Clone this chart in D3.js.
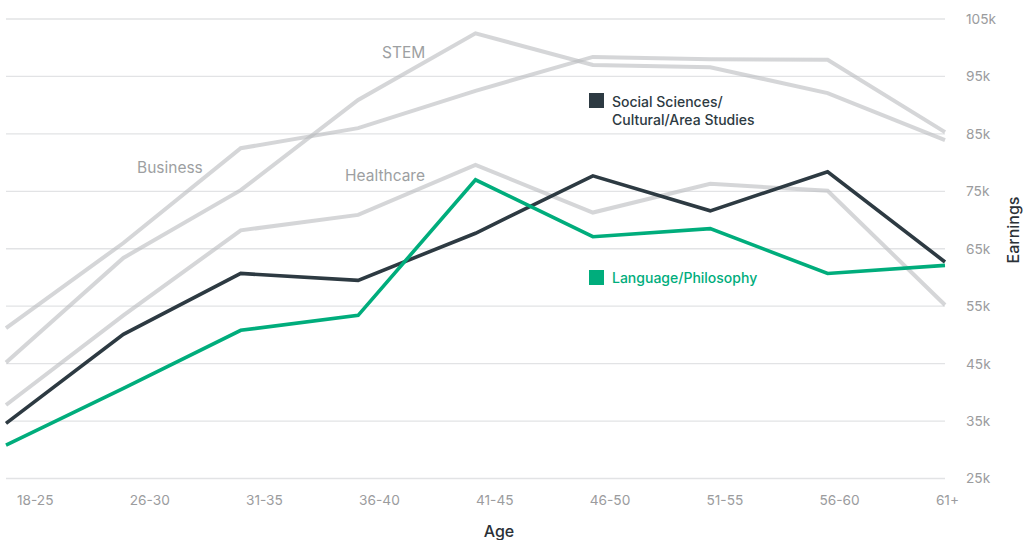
<!DOCTYPE html>
<html>
<head>
<meta charset="utf-8">
<script src="https://cdn.jsdelivr.net/npm/d3@7"></script>
<style>
  html, body { margin: 0; padding: 0; background: #fff; }
  svg { display: block; font-family: Inter, "Noto Sans", sans-serif; }
</style>
</head>
<body>
<svg id="chart" width="1029" height="540"></svg>
<script>
const ages = ["18-25","26-30","31-35","36-40","41-45","46-50","51-55","56-60","61+"];
const yTicks = [25,35,45,55,65,75,85,95,105];
const business   = [51.2, 66.0, 82.5, 86.0, 92.5, 98.4, 98.0, 97.9, 85.3];
const stem       = [45.2, 63.4, 75.2, 90.9, 102.5, 97.0, 96.6, 92.1, 83.9];
const healthcare = [37.8, 53.4, 68.2, 70.9, 79.6, 71.3, 76.3, 75.1, 55.2];
const socialSci  = [34.6, 50.1, 60.7, 59.5, 67.7, 77.7, 71.6, 78.4, 62.7];
const language   = [30.8, 40.7, 50.8, 53.4, 77.0, 67.1, 68.5, 60.7, 62.1];

const svg = d3.select("#chart");
const x = d3.scalePoint().domain(ages).range([6, 945]);
const y = d3.scaleLinear().domain([25, 105]).range([478.5, 19]);

// gridlines
svg.append("g").selectAll("line").data(yTicks).join("line")
  .attr("x1", 6).attr("x2", 945)
  .attr("y1", d => y(d)).attr("y2", d => y(d))
  .attr("stroke", "#e2e3e5").attr("stroke-width", 1.3);

// y axis labels (right)
const yAxis = d3.axisRight(y).tickValues(yTicks).tickFormat(d => d + "k").tickSize(0).tickPadding(0);
const gy = svg.append("g").attr("transform", "translate(966,0)").call(yAxis);
gy.select(".domain").remove();
gy.selectAll("text").attr("fill", "#9b9c9e").attr("font-size", 13.7).attr("font-family", "Inter, sans-serif");

// x axis labels, spread with space-between
const gx = svg.append("g");
const xl = gx.selectAll("text").data(ages).join("text")
  .text(d => d).attr("y", 505).attr("fill", "#9b9c9e").attr("font-size", 13.7);
const widths = [];
xl.each(function() { widths.push(this.getComputedTextLength()); });
const left = 17, right = 959;
const total = d3.sum(widths);
const gap = (right - left - total) / (ages.length - 1);
let cur = left;
xl.attr("x", (d, i) => { const v = cur; cur += widths[i] + gap; return v; });

// axis titles
svg.append("text").text("Age").attr("x", 499).attr("y", 537)
  .attr("text-anchor", "middle").attr("fill", "#2b3137").attr("font-size", 16).attr("font-weight", 500);
svg.append("text").text("Earnings")
  .attr("transform", "translate(1019,230) rotate(-90)")
  .attr("text-anchor", "middle").attr("fill", "#2b3137").attr("font-size", 16).attr("font-weight", 500);

const line = d3.line().x((d, i) => x(ages[i])).y(d => y(d));

// gray lines
[business, stem, healthcare].forEach(s => {
  svg.append("path").datum(s).attr("d", line)
    .attr("fill", "none").attr("stroke", "#b9bbbe").attr("stroke-opacity", 0.6)
    .attr("stroke-width", 4).attr("stroke-linejoin", "miter");
});

// gray labels
const grayLabels = [
  {t: "Business", x: 137, y: 173},
  {t: "STEM", x: 382, y: 58},
  {t: "Healthcare", x: 345, y: 181}
];
svg.append("g").selectAll("text").data(grayLabels).join("text")
  .text(d => d.t).attr("x", d => d.x).attr("y", d => d.y)
  .attr("fill", "#9d9fa2").attr("font-size", 15.5);

// highlighted lines
svg.append("path").datum(socialSci).attr("d", line)
  .attr("fill", "none").attr("stroke", "#2d3a42").attr("stroke-width", 3.6).attr("stroke-linejoin", "miter");
svg.append("path").datum(language).attr("d", line)
  .attr("fill", "none").attr("stroke", "#00ad7c").attr("stroke-width", 3.6).attr("stroke-linejoin", "miter");

// legends
svg.append("rect").attr("x", 589).attr("y", 93).attr("width", 15).attr("height", 15).attr("fill", "#2d3a42");
const t1 = svg.append("text").attr("x", 612).attr("y", 107).attr("fill", "#2d3a42").attr("font-size", 14).attr("font-weight", 500);
t1.append("tspan").attr("x", 612).text("Social Sciences/");
t1.append("tspan").attr("x", 612).attr("dy", 18).text("Cultural/Area Studies");

svg.append("rect").attr("x", 589).attr("y", 270).attr("width", 15).attr("height", 15).attr("fill", "#00ad7c");
svg.append("text").attr("x", 612).attr("y", 283).attr("fill", "#00ad7c").attr("font-size", 14).attr("font-weight", 500)
  .text("Language/Philosophy");
</script>
</body>
</html>
